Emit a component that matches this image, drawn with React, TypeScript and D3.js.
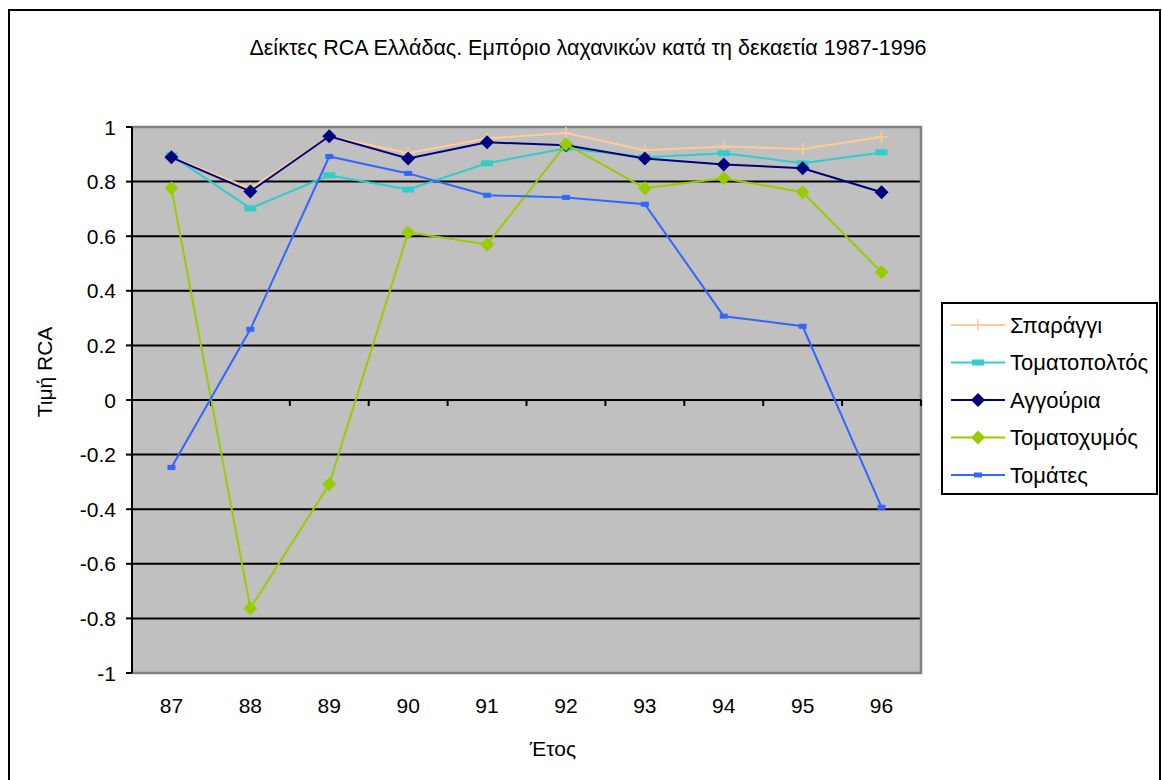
import React from 'react'
import * as d3 from 'd3'

const years = ['87', '88', '89', '90', '91', '92', '93', '94', '95', '96']
const yTicks = [1, 0.8, 0.6, 0.4, 0.2, 0, -0.2, -0.4, -0.6, -0.8, -1]

const sparaggi = [0.89, 0.775, 0.965, 0.905, 0.958, 0.978, 0.915, 0.929, 0.919, 0.963]
const tomatopoltos = [0.896, 0.702, 0.823, 0.771, 0.867, 0.922, 0.889, 0.904, 0.867, 0.907]
const aggouria = [0.889, 0.764, 0.966, 0.885, 0.944, 0.933, 0.885, 0.863, 0.849, 0.761]
const tomatoxymos = [0.776, -0.763, -0.309, 0.614, 0.57, 0.937, 0.776, 0.812, 0.761, 0.468]
const tomates = [-0.247, 0.259, 0.892, 0.83, 0.75, 0.742, 0.717, 0.307, 0.27, -0.393]

const seriesNames = ['Σπαράγγι', 'Τοματοπολτός', 'Αγγούρια', 'Τοματοχυμός', 'Τομάτες']
const seriesValues = [sparaggi, tomatopoltos, aggouria, tomatoxymos, tomates]
const seriesColors = ['#FFCC99', '#33CCCC', '#000080', '#99CC00', '#3366FF']
const seriesMarkers = ['plus', 'dash', 'diamond', 'diamond', 'smalldash']

const FONT = 'Liberation Sans, Arial, sans-serif'

function Marker({ kind, x, y, color }: { kind: string; x: number; y: number; color: string }) {
  if (kind === 'plus') {
    return (
      <g stroke={color} strokeWidth={1.5}>
        <line x1={x - 6} x2={x + 6} y1={y} y2={y} />
        <line x1={x} x2={x} y1={y - 6} y2={y + 6} />
      </g>
    )
  }
  if (kind === 'dash') return <rect x={x - 6} y={y - 3} width={12} height={6} fill={color} />
  if (kind === 'smalldash') return <rect x={x - 4} y={y - 2.5} width={8} height={5} fill={color} />
  const s = 7
  return <path d={`M${x},${y - s}L${x + s},${y}L${x},${y + s}L${x - s},${y}Z`} fill={color} />
}

export default function App() {
  const left = 132
  const right = 921
  const top = 127
  const bottom = 673

  const x = d3.scaleBand<string>().domain(years).range([left, right])
  const y = d3.scaleLinear().domain([-1, 1]).range([bottom, top])
  const cx = (d: string) => (x(d) as number) + x.bandwidth() / 2

  const line = d3
    .line<number>()
    .x((_, i) => cx(years[i]))
    .y((v) => y(v))

  const legendX = 942
  const legendY = 303

  return (
    <svg width={1162} height={780} style={{ position: 'absolute', left: 0, top: 0 }} fontFamily={FONT}>
      <rect x={0} y={0} width={1162} height={780} fill="#fff" />
      <rect x={9} y={10} width={1151} height={790} fill="#fff" stroke="#000" strokeWidth={2} />

      <text x={588} y={55} textAnchor="middle" fontSize={21.5} fill="#000">
        Δείκτες RCA Ελλάδας. Εμπόριο λαχανικών κατά τη δεκαετία 1987-1996
      </text>

      <rect x={left} y={top} width={right - left} height={bottom - top} fill="#C0C0C0" />

      {yTicks
        .filter((t) => t !== 1 && t !== -1 && t !== 0)
        .map((t) => (
          <line key={t} x1={left} x2={right} y1={y(t)} y2={y(t)} stroke="#000" strokeWidth={2} />
        ))}

      {/* plot border: gray top/right/bottom */}
      <path
        d={`M${left},${top}H${right}V${bottom}H${left}`}
        fill="none"
        stroke="#808080"
        strokeWidth={2.5}
      />

      {/* y axis */}
      <line x1={left} x2={left} y1={top} y2={bottom} stroke="#000" strokeWidth={2} />
      {yTicks.map((t) => (
        <g key={t}>
          <line x1={left - 6} x2={left} y1={y(t)} y2={y(t)} stroke="#000" strokeWidth={2} />
          <text x={116} y={y(t)} dy="0.36em" textAnchor="end" fontSize={21} fill="#000">
            {t === 0 ? '0' : String(t)}
          </text>
        </g>
      ))}

      {/* x axis at 0 */}
      <line x1={left} x2={right} y1={y(0)} y2={y(0)} stroke="#000" strokeWidth={2} />
      {years.slice(1).map((yr) => (
        <line
          key={yr}
          x1={x(yr) as number}
          x2={x(yr) as number}
          y1={y(0)}
          y2={y(0) + 6}
          stroke="#000"
          strokeWidth={2}
        />
      ))}
      <line x1={right} x2={right} y1={y(0)} y2={y(0) + 6} stroke="#000" strokeWidth={2} />

      {years.map((yr) => (
        <text key={yr} x={cx(yr)} y={713} textAnchor="middle" fontSize={21} fill="#000">
          {yr}
        </text>
      ))}

      <text x={553} y={756} textAnchor="middle" fontSize={21} fill="#000">
        Έτος
      </text>
      <text
        transform={`translate(52,${y(0) - 28}) rotate(-90)`}
        textAnchor="middle"
        fontSize={21}
        fill="#000"
      >
        Τιμή RCA
      </text>

      {seriesValues.map((vals, si) => (
        <g key={seriesNames[si]}>
          <path d={line(vals) || ''} fill="none" stroke={seriesColors[si]} strokeWidth={2} />
          {vals.map((v, i) => (
            <Marker key={i} kind={seriesMarkers[si]} x={cx(years[i])} y={y(v)} color={seriesColors[si]} />
          ))}
        </g>
      ))}

      {/* legend */}
      <rect x={legendX} y={legendY} width={215} height={191} fill="#fff" stroke="#000" strokeWidth={2} />
      {seriesNames.map((name, i) => {
        const ly = legendY + 22 + i * 37.5
        return (
          <g key={name}>
            <line x1={951} x2={1005} y1={ly} y2={ly} stroke={seriesColors[i]} strokeWidth={2} />
            <Marker kind={seriesMarkers[i]} x={978} y={ly} color={seriesColors[i]} />
            <text x={1010} y={ly} dy="0.36em" fontSize={22} fill="#000">
              {name}
            </text>
          </g>
        )
      })}
    </svg>
  )
}
